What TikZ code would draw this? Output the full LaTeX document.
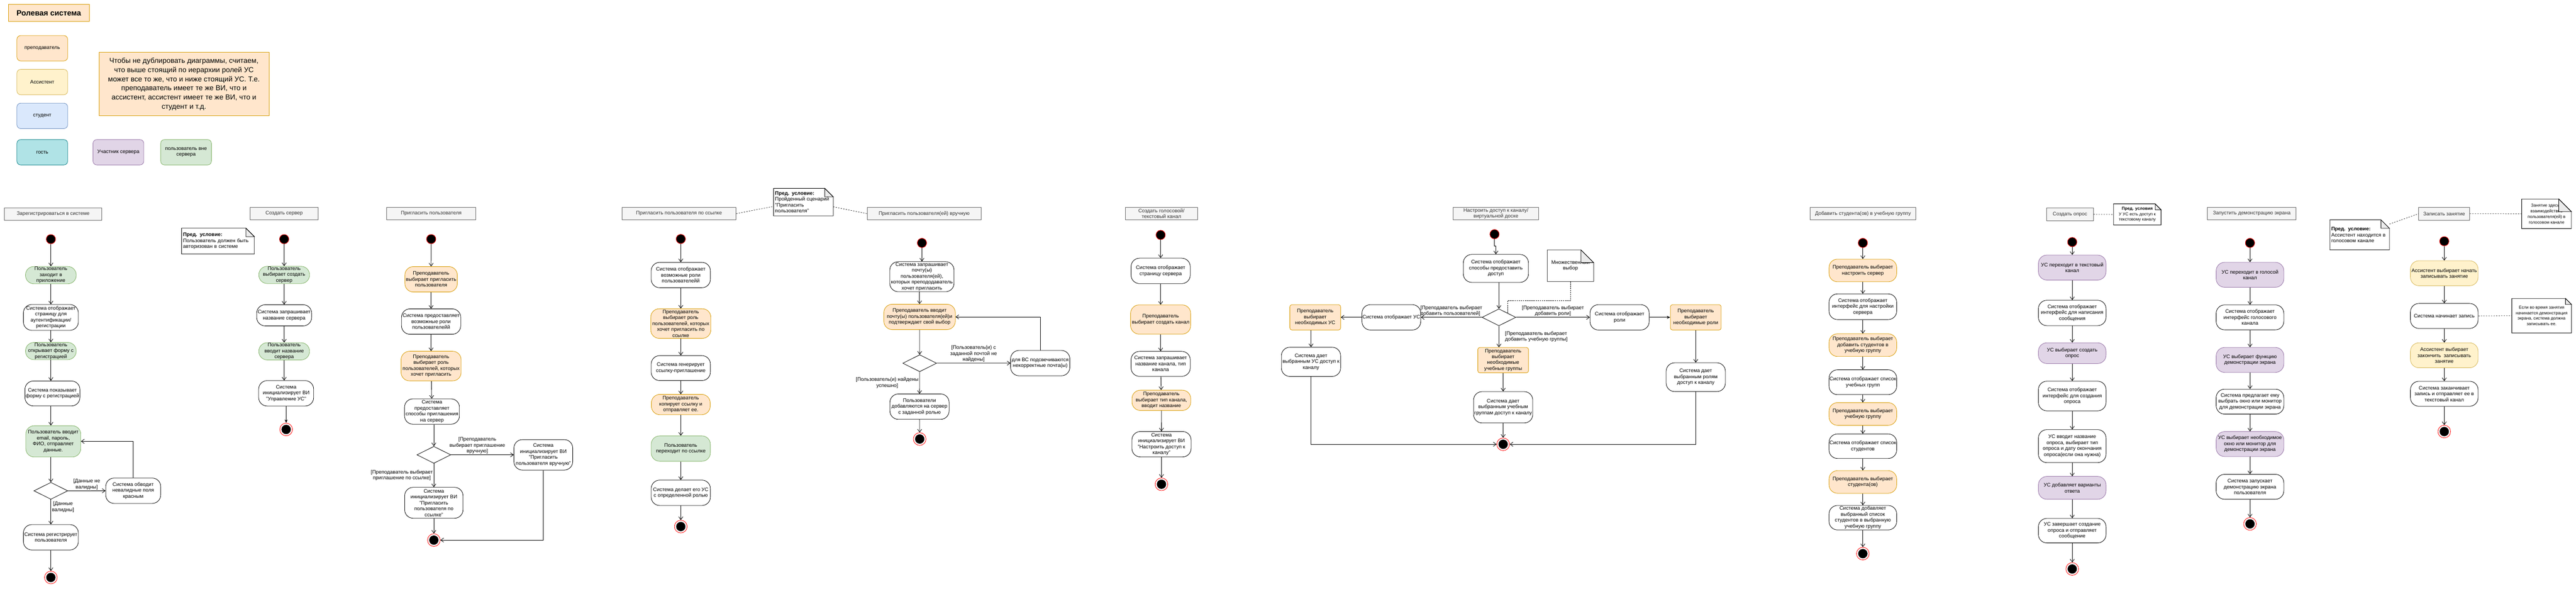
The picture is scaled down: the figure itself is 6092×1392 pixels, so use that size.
\documentclass[tikz,border=0pt]{standalone}
\usepackage{fontspec}
\setmainfont{Liberation Sans}
\usetikzlibrary{arrows.meta, shapes.geometric}
\definecolor{tchf}{HTML}{FFE6CC}\definecolor{tchd}{HTML}{D79B00}
\definecolor{asf}{HTML}{FFF2CC}\definecolor{asd}{HTML}{D6B656}
\definecolor{stuf}{HTML}{DAE8FC}\definecolor{stud}{HTML}{6C8EBF}
\definecolor{gsf}{HTML}{B0E3E6}\definecolor{gsd}{HTML}{0E8088}
\definecolor{mbf}{HTML}{E1D5E7}\definecolor{mbd}{HTML}{9673A6}
\definecolor{usf}{HTML}{D5E8D4}\definecolor{usd}{HTML}{82B366}
\definecolor{hdf}{HTML}{F5F5F5}\definecolor{hdd}{HTML}{666666}\definecolor{hdt}{HTML}{333333}
\tikzset{
  act/.style={draw, rounded corners=20pt, align=center, inner sep=1pt, fill=white},
  sz/.style 2 args={minimum width=#1, minimum height=#2},
  tch/.style={act, fill=tchf, draw=tchd},
  ast/.style={act, fill=asf, draw=asd},
  usr/.style={act, fill=usf, draw=usd},
  mbr/.style={act, fill=mbf, draw=mbd},
  pick/.style={draw=tchd, fill=tchf, rounded corners=5pt, align=center, inner sep=1pt},
  hdr/.style={draw=hdd, fill=hdf, text=hdt, align=center, inner sep=1pt, minimum height=30pt},
  rolebox/.style={draw, rounded corners=9pt, minimum width=120pt, minimum height=60pt, align=center},
  ini/.style={circle, fill=black, draw=red, minimum size=22pt, inner sep=0pt},
  fin/.style={circle, draw=red, fill=white, minimum size=30pt, inner sep=0pt, path picture={\fill[black] (path picture bounding box.center) circle (11pt);}},
  dec/.style={diamond, draw, minimum width=80pt, minimum height=40pt, inner sep=0pt},
  memo/.style={inner sep=3pt, align=center},
  lbl/.style={align=center, inner sep=2pt},
  fil/.style={-{Stealth[length=8pt,width=7pt]}},
  link/.style={-, dashed, draw=hdt}}
\newcommand\dogear[2]{%
\draw[-, fill=black!8] ([xshift=-#2]#1.north east) |- ([yshift=-#2]#1.north east) -- cycle;
\draw[-] (#1.north west) -- ([xshift=-#2]#1.north east) -- ([yshift=-#2]#1.north east) |- (#1.south west) -- cycle;}

\begin{document}
\begin{tikzpicture}[->, >={Straight Barb[length=7pt,width=10pt]}, line width=1pt, x=1pt, y=-1pt,
  font=\fontsize{12}{14}\selectfont]
\useasboundingbox (0,0) rectangle (6092,1392);

\node[rolebox, draw=tchd, fill=tchf, rounded corners=0pt, sz={191}{41}, font=\fontsize{18}{21}\selectfont\bfseries] (ttl) at (115.5,30.5) {Ролевая система};
\node[rolebox, draw=tchd, fill=tchf] (lt) at (100,114) {преподаватель};
\node[rolebox, draw=asd, fill=asf] (la) at (100,194) {Ассистент};
\node[rolebox, draw=stud, fill=stuf] (ls) at (100,274) {студент};
\node[rolebox, draw=gsd, fill=gsf] (lg) at (100,360) {гость};
\node[rolebox, draw=mbd, fill=mbf] (lm) at (280,360) {Участник сервера};
\node[rolebox, draw=usd, fill=usf] (lu) at (440,360) {пользователь вне\\сервера};
\node[draw=tchd, fill=tchf, align=center, sz={402}{150}, font=\fontsize{17}{21.7}\selectfont] (rule) at (435,199) {Чтобы не дублировать диаграммы, считаем,\\что выше стоящий по иерархии ролей УС\\может все то же, что и ниже стоящий УС. Т.е.\\преподаватель имеет те же ВИ, что и\\ассистент, ассистент имеет те же ВИ, что и\\студент и т.д.};

\node[hdr, minimum width=230] (h1) at (125.7,506) {Зарегистрироваться в системе};
\node[ini] (s1) at (120.3,565.5) {};
\node[usr, sz={120}{41}] (r1) at (120.3,650.5) {Пользователь\\заходит в\\приложение};
\node[act, sz={130}{61}] (r2) at (120.3,750.5) {Система отображает\\страницу для\\аутентификации/\\регистрации};
\node[usr, sz={120}{40}] (r3) at (120.3,830) {Пользователь\\открывает форму с\\регистрацией};
\node[act, sz={130}{59}] (r4) at (124,930.3) {Система показывает\\форму с регистрацией};
\node[usr, sz={130}{74}] (r5) at (126,1043.5) {Пользователь вводит\\email, пароль,\\ФИО, отправляет\\данные.};
\node[dec] (d1) at (120.3,1160.5) {};
\node[act, sz={130}{60}] (r6) at (315,1160.3) {Система обводит\\невалидные поля\\красным};
\node[act, sz={130}{60}] (r7) at (120.3,1270.3) {Система регистрирует\\пользователя};
\node[fin] (e1) at (120.3,1365.4) {};
\node[memo, text width=165pt, align=left, minimum height=60pt] (p1) at (515.5,570) {\textbf{Пред. условие:}\\Пользователь должен быть\\авторизован в системе};
\dogear{p1}{20pt}
\path (s1) edge (r1) (r1) edge (r2) (r2) edge (r3) (r3) edge (r3 |- r4.north);
\path (r4.south -| r3) edge (r5.north -| r3);
\path (r5.south -| d1) edge (d1);
\path (d1) edge node[lbl, above] {[Данные не\\валидны]} (r6);
\path (d1) edge node[lbl, right, pos=0.3] {[Данные\\валидны]} (r7);
\path (r7) edge (e1);
\draw (r6.north) |- (r5.east);

\node[hdr, minimum width=160] (h2) at (672,505) {Создать сервер};
\node[ini] (s2) at (672,565.4) {};
\node[usr, sz={120}{40}] (c1) at (672,650) {Пользователь\\выбирает создать\\сервер};
\node[act, sz={130}{50}] (c2) at (672,745.5) {Система запрашивает\\название сервера};
\node[usr, sz={120}{40}] (c3) at (672,830.6) {Пользователь\\вводит название\\сервера};
\node[act, sz={130}{60}] (c4) at (676.7,930) {Система\\инициализирует ВИ\\"Управление УС"};
\node[fin] (e2) at (676.7,1015.4) {};
\path (s2) edge (c1) (c1) edge (c2) (c2) edge (c3) (c3) edge (c3 |- c4.north);
\path (c4) edge[fil] (e2);

\node[hdr, minimum width=210] (h3) at (1019.7,505) {Пригласить пользователя};
\node[ini] (s3) at (1019.7,565.3) {};
\node[tch, sz={124}{60}] (i1) at (1019.5,660.4) {Преподаватель\\выбирает пригласить\\пользователя};
\node[act, sz={140}{60}] (i2) at (1019.5,760.3) {Система предоставляет\\возможные роли\\пользователейй};
\node[tch, sz={142}{70}] (i3) at (1019.5,865.5) {Преподаватель\\выбирает роль\\пользователей, которых\\хочет пригласить};
\node[act, sz={130}{60}] (i4) at (1021.6,973) {Система\\предоставляет\\способы приглашения\\на сервер};
\node[dec] (d3) at (1026,1075.4) {};
\node[act, sz={139}{72}] (i5) at (1284.9,1075.4) {Система\\инициализирует ВИ\\"Пригласить\\пользователя вручную"};
\node[act, sz={138}{73}] (i6) at (1026,1188.8) {Система\\инициализирует ВИ\\"Пригласить\\пользователя по\\ссылке"};
\node[fin] (e3) at (1026,1277) {};
\path (s3) edge (i1) (i1) edge (i2) (i2) edge (i3) (i3) edge (i4);
\path (i4.south -| d3) edge (d3);
\path (d3) edge node[lbl, above, pos=0.42] {[Преподаватель\\выбирает приглашение\\вручную]} (i5);
\path (d3) edge node[lbl, left] {[Преподаватель выбирает\\приглашение по ссылке]} (i6);
\path (i6) edge (e3);
\draw (i5.south) |- (e3.east);

\node[hdr, minimum width=270] (h4) at (1605.9,505) {Пригласить пользователя по ссылке};
\node[memo, text width=134pt, align=left, minimum height=64pt] (p4) at (1900,478) {\textbf{Пред. условие:}\\Пройденный сценарий\\"Пригласить\\пользователя"};
\dogear{p4}{20pt}
\node[ini] (s4) at (1610,565) {};
\node[act, sz={140}{60}] (l1) at (1610,650.3) {Система отображает\\возможные роли\\пользователейй};
\node[tch, sz={142}{70}] (l2) at (1610,765) {Преподаватель\\выбирает роль\\пользователей, которых\\хочет пригласить по\\ссылке};
\node[act, sz={140}{59}] (l3) at (1610,870.3) {Система генерирует\\ссылку-приглашение};
\node[tch, sz={139}{48}] (l4) at (1610,956.5) {Преподаватель\\копирует ссылку и\\отправляет ее.};
\node[usr, sz={140}{60}] (l5) at (1610,1060.6) {Пользователь\\переходит по ссылке};
\node[act, sz={140}{60}] (l6) at (1610,1165.2) {Система делает его УС\\с определенной ролью};
\node[fin] (e4) at (1610,1245) {};
\path (s4) edge (l1) (l1) edge (l2) (l2) edge (l3) (l3) edge (l4) (l4) edge (l5) (l5) edge (l6) (l6) edge (e4);
\draw[link] (h4.east) -- ([yshift=-10pt]p4.west);

\node[hdr, minimum width=270] (h5) at (2185.5,505) {Пригласить пользователя(ей) вручную};
\node[ini] (s5) at (2180.3,574.4) {};
\node[act, sz={152}{71}] (m1) at (2180.2,654.2) {Система запрашивает\\почту(ы)\\пользователя(ей),\\которых препододаватель\\хочет пригласить};
\node[tch, sz={169}{60}] (m2) at (2174.7,749.3) {Преподаватель вводит\\почту(ы) пользователя(ей)и\\подтверждает свой выбор};
\node[dec] (d5) at (2175,858.8) {};
\node[act, sz={140}{60}] (m3) at (2460,858.5) {для ВС подсвечиваются\\некорректные почта(ы)};
\node[act, sz={140}{60}] (m4) at (2174.5,961.5) {Пользователи\\добавляются на сервер\\с заданной ролью};
\node[fin] (e5) at (2175,1038) {};
\path (s5) edge (m1) (m2 |- m1.south) edge (m2) (m2) edge (d5);
\path (d5) edge node[lbl, above] {[Пользователь(и) с\\заданной почтой не\\найдены]} (m3);
\path (d5) edge node[lbl, left] {[Пользователь(и) найдены\\успешно]} (m4);
\path (m4) edge (e5);
\draw (m3.north) |- (m2.east);
\draw[link] ([yshift=-11pt]p4.east) -- (h5.west);

\node[hdr, minimum width=170] (h6) at (2746.7,505) {Создать голосовой/\\текстовый канал};
\node[ini] (s6) at (2744.8,555.5) {};
\node[act, sz={140}{60}] (k1) at (2744.8,640.5) {Система отображает\\страницу сервера};
\node[tch, sz={142}{69}] (k2) at (2744.8,755.4) {Преподаватель\\выбирает создать канал};
\node[act, sz={140}{59}] (k3) at (2744.8,860.3) {Система запрашивает\\название канала, тип\\канала};
\node[tch, sz={139}{48}] (k4) at (2746.5,946.5) {Преподаватель\\выбирает тип канала,\\вводит название};
\node[act, sz={140}{60}] (k5) at (2746.8,1050.3) {Система\\инициализирует ВИ\\"Настроить доступ к\\каналу"};
\node[fin] (e6) at (2746.8,1145) {};
\path (s6) edge (k1) (k1) edge (k2) (k2) edge (k3) (k3) edge (k4) (k4) edge (k5) (k5) edge (e6);

\node[hdr, minimum width=202] (h7) at (3537.6,505) {Настроить доступ к каналу/\\виртуальной доске};
\node[ini] (s7) at (3534.4,553.7) {};
\node[act, sz={154}{66}] (g1) at (3537.6,634.6) {Система отображает\\способы предоставить\\доступ};
\node[dec] (d7) at (3544.8,750.3) {};
\node[memo, sz={108.7}{73.5}] (p7) at (3714,628.2) {Множественный\\выбор};
\dogear{p7}{30pt}
\node[act, sz={140}{60}] (g2) at (3830.2,750.3) {Система отображает\\роли};
\node[pick, sz={120}{60}] (g3) at (4010.3,750.3) {Преподаватель\\выбирает\\необходимые роли};
\node[act, sz={140}{68}] (g4) at (4010.3,891.8) {Система дает\\выбранным ролям\\доступ к каналу};
\node[act, sz={139}{60}] (g5) at (3290.4,750.3) {Система отображает УС};
\node[pick, sz={120}{60}] (g6) at (3110.4,750.3) {Преподаватель\\выбирает\\необходимых УС};
\node[act, sz={140}{69}] (g7) at (3100.4,855.5) {Система дает\\выбранным УС доступ к\\каналу};
\node[pick, sz={120}{60}] (g8) at (3554.8,851.5) {Преподаватель\\выбирает\\необходимые\\учебные группы};
\node[act, sz={140}{74}] (g9) at (3554.8,963) {Система дает\\выбранным учебным\\группам доступ к каналу};
\node[fin] (e7) at (3554.8,1050.4) {};
\coordinate (q7) at (3565,740);
\draw (s7) -- ++(0,28) -| (g1);
\path (d7 |- g1.south) edge (d7);
\path (d7) edge node[lbl, above] {[Преподаватель выбирает\\добавить роли]} (g2);
\path (g2) edge[fil] (g3) (g3) edge (g4);
\draw (g4.south) |- (e7.east);
\path (d7) edge node[lbl, above, align=left] {[Преподаватель выбирает\\добавить пользователей]} (g5);
\path (g5) edge (g6) (g7 |- g6.south) edge (g7);
\draw (g7.south) |- (e7.west);
\path (d7) edge node[lbl, right, align=left, xshift=12pt] {[Преподаватель выбирает\\добавить учебную группы]} (d7 |- g8.north);
\path (g8) edge (g9) (g9) edge (e7);
\draw[-, dash pattern=on 3pt off 2pt] (p7.south) -- ++(0,45.5) -| (q7);

\node[hdr, minimum width=250] (h8) at (4405.7,505) {Добавить студента(ов) в учебную группу};
\node[ini] (s8) at (4405.4,574.4) {};
\node[tch, sz={160}{53.5}] (t1) at (4405.4,639.5) {Преподаватель выбирает\\настроить сервер};
\node[act, sz={160}{60.7}] (t2) at (4405.4,725.2) {Система отображает\\интерфейс для настройки\\сервера};
\node[tch, sz={160}{53.6}] (t3) at (4405.4,816) {Преподаватель выбирает\\добавить студентов в\\учебную группу};
\node[act, sz={160}{58.7}] (t4) at (4405.4,903.7) {Система отображает список\\учебных групп};
\node[tch, sz={160}{53.6}] (t5) at (4405.4,978.8) {Преподаватель выбирает\\учебную группу};
\node[act, sz={160}{58}] (t6) at (4405.4,1055) {Система отображает список\\студентов};
\node[tch, sz={160}{53.5}] (t7) at (4405.4,1139.5) {Преподаватель выбирает\\студента(ов)};
\node[act, sz={160}{57.7}] (t8) at (4405.4,1224) {Система добавляет\\выбранный список\\студентов в выбранную\\учебную группу};
\node[fin] (e8) at (4405.4,1309) {};
\path (s8) edge (t1) (t1) edge (t2) (t2) edge (t3) (t3) edge (t4) (t4) edge (t5) (t5) edge (t6) (t6) edge (t7) (t7) edge (t8) (t8) edge (e8);

\node[hdr, minimum width=110] (h9) at (4895.3,506.7) {Создать опрос};
\node[memo, sz={111.6}{49}, font=\fontsize{10}{13}\selectfont] (p9) at (5054.4,507) {\textbf{Пред. условия}\\У УС есть доступ к\\текстовому каналу};
\dogear{p9}{14pt}
\node[ini] (s9) at (4900.6,572.3) {};
\node[mbr, sz={160}{59}] (o1) at (4900.6,632.6) {УС переходит в текстовый\\канал};
\node[act, sz={160}{60}] (o2) at (4900.6,740) {Система отображает\\интерфейс для написания\\сообщения};
\node[mbr, sz={160}{49}] (o3) at (4900.6,835) {УС выбирает создать\\опрос};
\node[act, sz={160}{70}] (o4) at (4900.6,936.3) {Система отображает\\интерфейс для создания\\опроса};
\node[act, sz={160}{78}] (o5) at (4900.6,1054.8) {УС вводит название\\опроса, выбирает тип\\опроса и дату окончания\\опроса(если она нужна)};
\node[mbr, sz={160}{54}] (o6) at (4900.6,1153.5) {УС добавляет варианты\\ответа};
\node[act, sz={160}{58}] (o7) at (4900.6,1254.7) {УС завершает создание\\опроса и отправляет\\сообщение};
\node[fin] (e9) at (4900.6,1345.3) {};
\path (s9) edge (o1) (o1) edge (o2) (o2) edge (o3) (o3) edge (o4) (o4) edge (o5) (o5) edge (o6) (o6) edge (o7) (o7) edge (e9);
\draw[link] (h9.east) -- (p9.west);

\node[hdr, minimum width=210] (h10) at (5325.2,505) {Запустить демонстрацию экрана};
\node[ini] (s10) at (5321,574.4) {};
\node[mbr, sz={160}{59}] (z1) at (5321,649.7) {УС переходит в голосой\\канал};
\node[act, sz={160}{59}] (z2) at (5321,750.4) {Система отображает\\интерфейс голосового\\канала};
\node[mbr, sz={160}{59}] (z3) at (5321,851) {УС выбирает функцию\\демонстрации экрана};
\node[act, sz={160}{59}] (z4) at (5321,949.6) {Система предлагает ему\\выбрать окно или монитор\\для демонстрации экрана};
\node[mbr, sz={160}{59}] (z5) at (5321,1050) {УС выбирает необходимое\\окно или монитор для\\демонстрации экрана};
\node[act, sz={160}{59}] (z6) at (5321,1151) {Система запускает\\демонстрацию экрана\\пользователя};
\node[fin] (e10) at (5321,1238.7) {};
\path (s10) edge (z1) (z1) edge (z2) (z2) edge (z3) (z3) edge (z4) (z4) edge (z5) (z5) edge (z6) (z6) edge (e10);

\node[hdr, minimum width=120] (h11) at (5780.2,505.3) {Записать занятие};
\node[memo, text width=134pt, align=left, minimum height=70pt] (p11a) at (5580.3,555.3) {\textbf{Пред. условие:}\\Ассистент находится в\\голосовом канале};
\dogear{p11a}{20pt}
\node[memo, sz={116.5}{69}, font=\fontsize{10}{13.3}\selectfont] (p11b) at (6022.3,505.5) {Занятие здесь -\\взаимодействие\\пользователя(ей) в\\голосовом канале};
\dogear{p11b}{30pt}
\node[ini] (s11) at (5780.4,570.4) {};
\node[ast, sz={160}{59}] (a1) at (5780.4,646) {Ассистент выбирает начать\\записывать занятие};
\node[act, sz={160}{59}] (a2) at (5780.4,747) {Система начинает запись};
\node[memo, sz={140}{80.4}, font=\fontsize{10}{13}\selectfont] (p11c) at (6010.6,746.5) {Если во время занятия\\начинается демонстрация\\экрана, система должна\\записывать ее.};
\dogear{p11c}{14pt}
\node[ast, sz={160}{59}] (a3) at (5780.4,840) {Ассистент выбирает\\закончить\ \ записывать\\занятие};
\node[act, sz={160}{59}] (a4) at (5780.4,931) {Система заканчивает\\запись и отправляет ее в\\текстовый канал};
\node[fin] (e11) at (5780.4,1020.4) {};
\path (s11) edge (a1) (a1) edge (a2) (a2) edge (a3) (a3) edge (a4) (a4) edge (e11);
\draw[link] ([yshift=-10pt]p11a.north east) -- (h11.west);
\draw[link] (h11.east) -- (p11b.west);
\draw[link] (a2.east) -- (p11c.west);
\end{tikzpicture}
\end{document}
